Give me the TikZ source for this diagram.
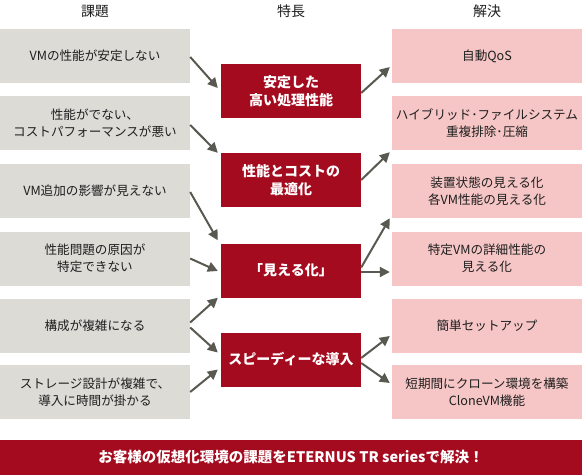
\documentclass[tikz,border=0pt]{standalone}
\usepackage{fontspec}
\setmainfont{Noto Sans CJK JP}
\usetikzlibrary{arrows.meta,calc}
\definecolor{boxgrey}{HTML}{DCDBD6}
\definecolor{boxpink}{HTML}{F6C6C6}
\definecolor{boxred}{HTML}{A50B1E}
\definecolor{arrgrey}{HTML}{585951}
\definecolor{txt}{HTML}{1E1E1E}
\begin{document}
\begin{tikzpicture}[x=1pt,y=-1pt,
  probbox/.style={fill=boxgrey,draw=none,minimum width=190pt,minimum height=54pt,inner sep=0pt,align=center,text=txt,font=\fontsize{12.6}{17}\selectfont},
  solbox/.style={fill=boxpink,draw=none,minimum width=190pt,minimum height=54pt,inner sep=0pt,align=center,text=txt,font=\fontsize{12.6}{17}\selectfont},
  featbox/.style={fill=boxred,draw=none,minimum width=140pt,minimum height=54pt,inner sep=0pt,align=center,text=white,font=\fontsize{14}{18}\selectfont\bfseries},
  head/.style={text=txt,font=\fontsize{14}{16}\selectfont,inner sep=0pt},
  arr/.style={draw=arrgrey,line width=2pt,-{Triangle[length=10pt,width=10pt]}}]
\useasboundingbox (0,0) rectangle (582,475);
% headers
\node[head] (h1) at (95,11) {課題};
\node[head] (h2) at (291,11) {特長};
\node[head] (h3) at (487,11) {解決};
% problems
\node[probbox] (L1) at (95,56) {VMの性能が安定しない};
\node[probbox] (L2) at (95,123) {性能がでない、\\コストパフォーマンスが悪い};
\node[probbox] (L3) at (95,191) {VM追加の影響が見えない};
\node[probbox] (L4) at (95,258.5) {性能問題の原因が\\特定できない};
\node[probbox] (L5) at (95,325.5) {構成が複雑になる};
\node[probbox] (L6) at (95,392) {ストレージ設計が複雑で、\\導入に時間が掛かる};
% features
\node[featbox] (A) at (291,91) {安定した\\高い処理性能};
\node[featbox] (B) at (291,180) {性能とコストの\\最適化};
\node[featbox] (C) at (291,270.5) {「見える化」};
\node[featbox] (D) at (291,359.5) {スピーディーな導入};
% solutions
\node[solbox] (R1) at (487,56) {自動QoS};
\node[solbox] (R2) at (487,123) {ハイブリッド･ファイルシステム\\重複排除･圧縮};
\node[solbox] (R3) at (487,191) {装置状態の見える化\\各VM性能の見える化};
\node[solbox] (R4) at (487,258.5) {特定VMの詳細性能の\\見える化};
\node[solbox] (R5) at (487,325.5) {簡単セットアップ};
\node[solbox] (R6) at (487,392) {短期間にクローン環境を構築\\CloneVM機能};
% banner
\node[fill=boxred,minimum width=582pt,minimum height=35pt,inner sep=0pt,text=white,font=\fontsize{14.5}{16}\selectfont\bfseries] (ban) at (291,457.5) {お客様の仮想化環境の課題をETERNUS TR seriesで解決！};
% arrows left -> middle
\draw[arr] ($(L1.east)+(0,1)$) -- ($(A.west)+(-3,-3)$);
\draw[arr] ($(L2.east)+(0,2)$) -- ($(B.north west)+(-3,0)$);
\draw[arr] ($(L3.east)+(0,1)$) -- ($(C.north west)+(-3,-3)$);
\draw[arr] ($(L4.east)+(0,0)$) -- ($(C.west)+(-3,0.5)$);
\draw[arr] ($(L5.east)+(0,-3)$) -- ($(C.south west)+(-3,0)$);
\draw[arr] ($(L5.east)+(0,2)$) -- ($(D.west)+(-3,-7)$);
\draw[arr] ($(L6.east)+(0,0)$) -- ($(D.west)+(-3,10)$);
% arrows middle -> right
\draw[arr] ($(A.east)+(0,2)$) -- ($(R1.west)+(-2,11)$);
\draw[arr] ($(B.east)+(0,0)$) -- ($(R2.south west)+(-2,2)$);
\draw[arr] ($(C.east)+(0,-3)$) -- ($(R3.south west)+(-2,0)$);
\draw[arr] ($(C.east)+(0,1.5)$) -- ($(R4.west)+(-2,13.5)$);
\draw[arr] ($(D.east)+(0,-1.5)$) -- ($(R5.west)+(-2,10.5)$);
\draw[arr] ($(D.east)+(0,3.5)$) -- ($(R6.west)+(-2,-9)$);
\end{tikzpicture}
\end{document}
